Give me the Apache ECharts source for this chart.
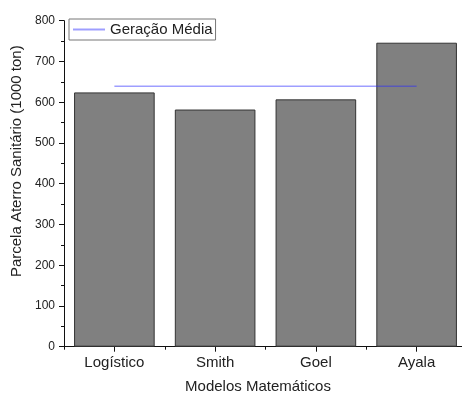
<!DOCTYPE html>
<html>
<head>
<meta charset="utf-8">
<script src="https://cdn.jsdelivr.net/npm/echarts@6/dist/echarts.min.js"></script>
<style>
html,body{margin:0;padding:0;background:#fff;}
#c{width:462px;height:395px;}
</style>
</head>
<body>
<div id="c"></div>
<script>
const categories = ['Logístico', 'Smith', 'Goel', 'Ayala'];
const barValues = [624, 582, 607, 746];
const meanValues = [639, 639, 639, 639];
const yTicks = { min: 0, max: 800, interval: 100 };
const meanName = 'Geração Média';

const chart = echarts.init(document.getElementById('c'), null, { renderer: 'canvas' });
const font = '"Liberation Sans", Arial, sans-serif';
chart.setOption({
  animation: false,
  backgroundColor: '#fff',
  textStyle: { fontFamily: font },
  grid: { left: 64, right: -5, top: 20.7, bottom: 48.3, containLabel: false, outerBoundsMode: 'none' },
  legend: {
    left: 69, top: 19,
    data: [meanName],
    itemWidth: 32, itemHeight: 10,
    padding: [3, 3, 3, 3],
    itemGap: 4,
    borderColor: '#777', borderWidth: 1,
    itemStyle: { opacity: 0 },
    textStyle: { fontFamily: font, fontSize: 15, color: '#222' }
  },
  xAxis: [{
    type: 'category',
    data: categories,
    name: 'Modelos Matemáticos',
    nameLocation: 'middle',
    nameGap: 33,
    nameTextStyle: { fontFamily: font, fontSize: 15, color: '#222', padding: [0, 15, 0, 0] },
    axisLine: { show: true, lineStyle: { color: '#111', width: 1 } },
    axisTick: { show: true, alignWithLabel: true, length: 5, lineStyle: { color: '#111' } },
    axisLabel: { fontFamily: font, fontSize: 15, color: '#222', margin: 9 },
    splitLine: { show: false }
  }, {
    type: 'category',
    data: categories,
    position: 'bottom',
    axisLine: { show: false },
    axisTick: { show: true, length: 3, lineStyle: { color: '#111' } },
    axisLabel: { show: false },
    splitLine: { show: false }
  }],
  yAxis: {
    type: 'value',
    min: yTicks.min, max: yTicks.max, interval: yTicks.interval,
    name: 'Parcela Aterro Sanitário (1000 ton)',
    nameLocation: 'middle',
    nameGap: 38,
    nameTextStyle: { fontFamily: font, fontSize: 15, color: '#222', padding: [0, 0, 0, 45] },
    axisLine: { show: true, lineStyle: { color: '#111', width: 1 } },
    axisTick: { show: true, length: 5, lineStyle: { color: '#111' } },
    minorTick: { show: true, splitNumber: 2, length: 3, lineStyle: { color: '#111' } },
    axisLabel: { fontFamily: font, fontSize: 12, color: '#222', margin: 9 },
    splitLine: { show: false }
  },
  series: [{
    name: 'Modelos',
    type: 'bar',
    data: barValues,
    barCategoryGap: '20%',
    itemStyle: { color: '#808080', borderColor: '#333', borderWidth: 1 }
  }, {
    name: meanName,
    type: 'line',
    data: meanValues,
    symbol: 'none',
    z: 5,
    lineStyle: { color: 'rgba(40,40,255,0.45)', width: 1.5 },
    itemStyle: { color: 'rgba(40,40,255,0.45)' }
  }]
});
</script>
</body>
</html>
